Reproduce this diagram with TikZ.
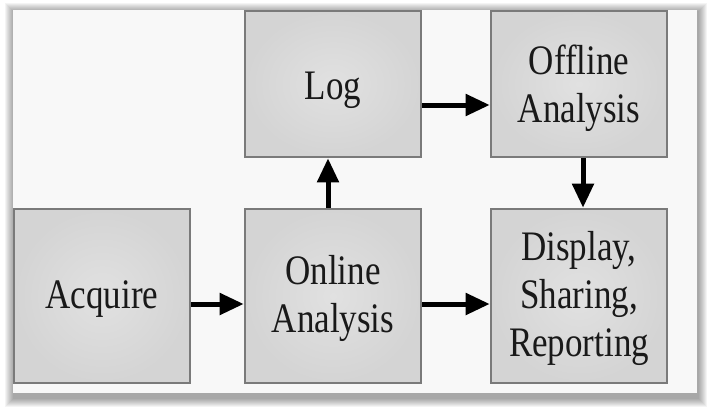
\documentclass[tikz,border=0pt]{standalone}
\usepackage{fontspec}
\setmainfont{Liberation Serif}
\usetikzlibrary{arrows.meta}
\definecolor{boxin}{HTML}{E1E1E1}
\definecolor{boxout}{HTML}{D4D4D4}
\definecolor{boxline}{HTML}{7A7A7A}
\definecolor{framebg}{HTML}{F8F8F8}
\newcommand{\blklabel}[1]{\scalebox{1}[1.2]{\fontsize{35}{40}\selectfont\begin{tabular}{@{}c@{}}#1\end{tabular}}}
\begin{document}
\begin{tikzpicture}[x=1pt,y=-1pt,
  blk/.style={draw=boxline, line width=2.6pt, inner color=boxin, outer color=boxout,
    minimum width=176pt, inner sep=0pt},
  tallblk/.style={blk, minimum height=174pt},
  shortblk/.style={blk, minimum height=146pt},
  lbl/.style={inner sep=0pt, text=black!90},
  arr/.style={line width=5pt, -{Triangle[length=24pt,width=21pt]}}]
\useasboundingbox (0,0) rectangle (711,412);
\fill[white] (0,0) rectangle (711,412);
% frame shadow
\foreach \r in {1,...,9}{
  \fill[black, opacity=0.045] (14-\r,12-\r) rectangle (698+\r,398+\r);
}
\fill[framebg] (13,10) rectangle (697,393);
% blocks
\node[tallblk] (acq) at (102,296) {};
\node[tallblk] (onl) at (333,296) {};
\node[shortblk] (log) at (333,84) {};
\node[shortblk] (off) at (579,84) {};
\node[tallblk] (dis) at (579,296) {};
% labels
\node[lbl] (acqt) at ([yshift=-3pt]acq.center) {\blklabel{Acquire}};
\node[lbl] (onlt) at ([yshift=-3pt]onl.center) {\blklabel{Online\\Analysis}};
\node[lbl] (logt) at ([yshift=-6pt]log.center) {\blklabel{Log}};
\node[lbl] (offt) at ([yshift=-5pt]off.center) {\blklabel{Offline\\Analysis}};
\node[lbl] (dist) at ([yshift=-3pt]dis.center) {\blklabel{Display,\\Sharing,\\Reporting}};
% arrows
\draw[arr] ([yshift=-8pt]acq.east) -- ([yshift=-8pt]onl.west);
\draw[arr] ([yshift=-8pt]onl.east) -- ([yshift=-8pt]dis.west);
\draw[arr] ([yshift=-21pt]log.east) -- ([yshift=-21pt]off.west);
\draw[arr] ([xshift=-5pt]onl.north) -- ([xshift=-5pt]log.south);
\draw[arr] ([xshift=4pt]off.south) -- ([xshift=4pt]dis.north);
\end{tikzpicture}
\end{document}
